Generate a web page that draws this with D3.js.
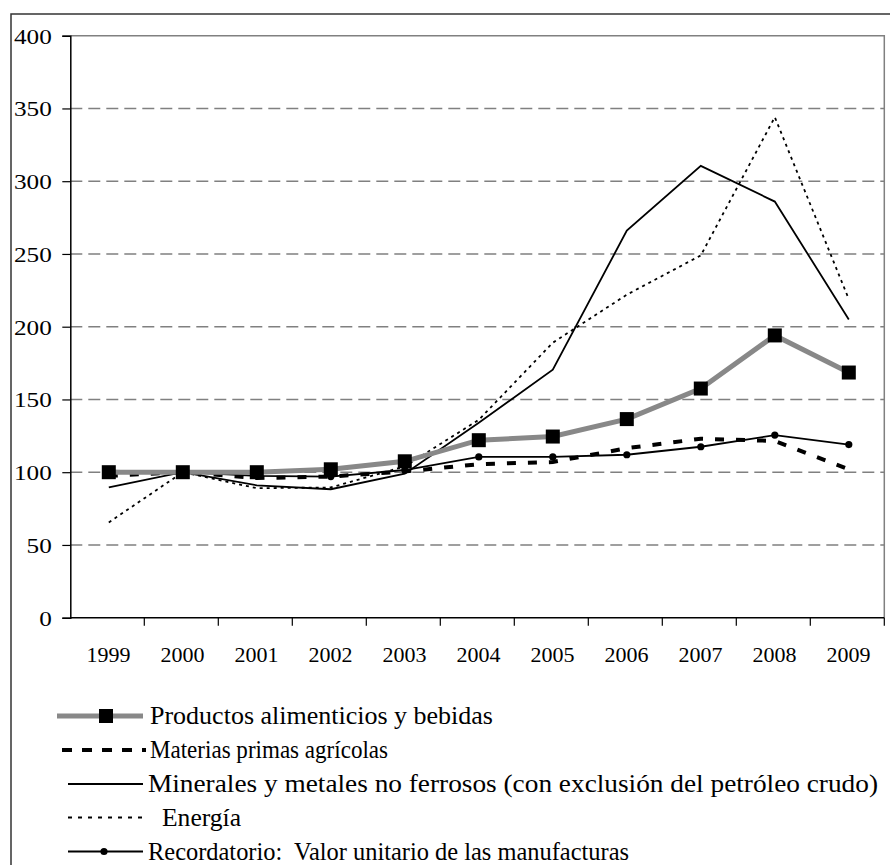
<!DOCTYPE html>
<html>
<head>
<meta charset="utf-8">
<script src="https://cdn.jsdelivr.net/npm/d3@7"></script>
<style>
  body { margin: 0; background: #fff; }
  text { font-family: "Liberation Serif", "Times New Roman", Times, serif; }
</style>
</head>
<body>
<div id="chart"></div>
<script>
// data
var years = ["1999", "2000", "2001", "2002", "2003", "2004", "2005", "2006", "2007", "2008", "2009"];
var alimentos = [100, 100, 100, 102, 107.5, 122, 124.5, 136.5, 157.5, 194, 168.5];
var agricolas = [97.5, 100, 96, 97, 100.5, 105.5, 107, 116.5, 123, 121.5, 102];
var minerales = [89.5, 100, 91, 88.3, 99, 134, 170.5, 266, 310.5, 286, 205];
var energia = [65.5, 100, 89, 89.5, 104, 136, 189, 222, 249, 344, 219];
var manufacturas = [101, 100, 97.5, 97, 101.5, 110.5, 110.5, 112, 117.5, 125.5, 119];
var yTicks = [0, 50, 100, 150, 200, 250, 300, 350, 400];
var legendLabels = [
  "Productos alimenticios y bebidas",
  "Materias primas agrícolas",
  "Minerales y metales no ferrosos (con exclusión del petróleo crudo)",
  "Energía",
  "Recordatorio:  Valor unitario de las manufacturas"
];

var width = 890, height = 865;
var plotLeft = 70.3, plotRight = 884.3, plotTop = 35.7, plotBottom = 617.7;
var serif = "'Liberation Serif', 'Times New Roman', Times, serif";

var svg = d3.select("#chart").append("svg")
  .attr("width", width)
  .attr("height", height)
  .attr("font-family", serif);

// outer chart frame (runs off the right and bottom)
svg.append("rect")
  .attr("x", 11).attr("y", 14)
  .attr("width", 900).attr("height", 900)
  .attr("fill", "none")
  .attr("stroke", "#333")
  .attr("stroke-width", 1.5);

var x = d3.scaleBand().domain(years).range([plotLeft, plotRight]);
var y = d3.scaleLinear().domain([0, 400]).range([plotBottom, plotTop]);
var cx = function(d, i) { return x(years[i]) + x.bandwidth() / 2 + 1.5; };

// gridlines
svg.append("g").selectAll("line")
  .data(yTicks.filter(function(t) { return t > 0 && t < 400; }))
  .enter().append("line")
  .attr("x1", plotLeft).attr("x2", plotRight)
  .attr("y1", function(d) { return y(d); })
  .attr("y2", function(d) { return y(d); })
  .attr("stroke", "#808080")
  .attr("stroke-width", 1.4)
  .attr("stroke-dasharray", "12,6");

// plot area border, top and right
svg.append("path")
  .attr("d", "M" + plotLeft + "," + y(400) + "H" + plotRight + "V" + plotBottom)
  .attr("fill", "none")
  .attr("stroke", "#808080")
  .attr("stroke-width", 1.5);

// y axis
var yAxis = svg.append("g")
  .attr("transform", "translate(" + plotLeft + ",0)")
  .call(d3.axisLeft(y).tickValues(yTicks).tickSize(8).tickPadding(0).tickFormat(d3.format("d")))
  .attr("font-family", serif);
yAxis.select(".domain").attr("stroke", "#000").attr("stroke-width", 1.5);
yAxis.selectAll(".tick line").attr("stroke", "#000").attr("stroke-width", 1.2);
yAxis.selectAll(".tick text")
  .attr("x", -18.5)
  .attr("dy", "0.34em")
  .attr("fill", "#000")
  .attr("font-size", 22)
  .attr("textLength", function(d) { return String(d).length * 12.6; })
  .attr("lengthAdjust", "spacingAndGlyphs");

// x axis, ticks on the category edges
var xAxis = svg.append("g")
  .attr("transform", "translate(0," + plotBottom + ")");
xAxis.append("line")
  .attr("x1", plotLeft).attr("x2", plotRight)
  .attr("stroke", "#000").attr("stroke-width", 1.5);
xAxis.selectAll("line.tk")
  .data(years)
  .enter().append("line")
  .attr("class", "tk")
  .attr("x1", function(d) { return x(d) + x.bandwidth(); })
  .attr("x2", function(d) { return x(d) + x.bandwidth(); })
  .attr("y1", 0).attr("y2", 8)
  .attr("stroke", "#000").attr("stroke-width", 1.2);
xAxis.selectAll("text")
  .data(years)
  .enter().append("text")
  .attr("x", function(d) { return x(d) + x.bandwidth() / 2 + 1.2; })
  .attr("y", 44)
  .attr("text-anchor", "middle")
  .attr("font-size", 22)
  .text(function(d) { return d; });

var line = d3.line()
  .x(cx)
  .y(function(d) { return y(d); });

var series = [
  { values: agricolas, stroke: "#000", width: 4, dash: "9,12" },
  { values: minerales, stroke: "#000", width: 1.8, dash: null },
  { values: energia, stroke: "#000", width: 1.8, dash: "3,4" },
  { values: manufacturas, stroke: "#000", width: 1.8, dash: null, dots: true },
  { values: alimentos, stroke: "#888", width: 5, dash: null, squares: true }
];

series.forEach(function(s) {
  svg.append("path")
    .datum(s.values)
    .attr("d", line)
    .attr("fill", "none")
    .attr("stroke", s.stroke)
    .attr("stroke-width", s.width)
    .attr("stroke-dasharray", s.dash);
  if (s.dots) {
    svg.append("g").selectAll("circle")
      .data(s.values)
      .enter().append("circle")
      .attr("cx", cx)
      .attr("cy", function(d) { return y(d); })
      .attr("r", 3.6)
      .attr("fill", "#000");
  }
  if (s.squares) {
    svg.append("g").selectAll("rect")
      .data(s.values)
      .enter().append("rect")
      .attr("x", function(d, i) { return cx(d, i) - 7; })
      .attr("y", function(d) { return y(d) - 7; })
      .attr("width", 14).attr("height", 14)
      .attr("fill", "#000");
  }
});

// legend
var legY = [716, 750, 784, 817.5, 851.5];
var legTextX = [150, 150, 148, 162, 148];
var legTextW = [343, 238, 730, 79, 481];
var leg = svg.append("g");

leg.append("line").attr("x1", 57).attr("x2", 143).attr("y1", legY[0]).attr("y2", legY[0])
  .attr("stroke", "#888").attr("stroke-width", 5);
leg.append("rect").attr("x", 99).attr("y", legY[0] - 7).attr("width", 14).attr("height", 14).attr("fill", "#000");

leg.append("line").attr("x1", 62).attr("x2", 146).attr("y1", legY[1]).attr("y2", legY[1])
  .attr("stroke", "#000").attr("stroke-width", 4).attr("stroke-dasharray", "10,10");

leg.append("line").attr("x1", 68).attr("x2", 143).attr("y1", legY[2]).attr("y2", legY[2])
  .attr("stroke", "#000").attr("stroke-width", 1.8);

leg.append("line").attr("x1", 68).attr("x2", 143).attr("y1", legY[3]).attr("y2", legY[3])
  .attr("stroke", "#000").attr("stroke-width", 2).attr("stroke-dasharray", "4,6");

leg.append("line").attr("x1", 68).attr("x2", 143).attr("y1", legY[4]).attr("y2", legY[4])
  .attr("stroke", "#000").attr("stroke-width", 1.8);
leg.append("circle").attr("cx", 104).attr("cy", legY[4]).attr("r", 3.6).attr("fill", "#000");

leg.selectAll("text")
  .data(legendLabels)
  .enter().append("text")
  .attr("x", function(d, i) { return legTextX[i]; })
  .attr("y", function(d, i) { return legY[i] + 8; })
  .attr("textLength", function(d, i) { return legTextW[i]; })
  .attr("lengthAdjust", "spacingAndGlyphs")
  .attr("font-size", 26)
  .style("white-space", "pre")
  .text(function(d) { return d; });
</script>
</body>
</html>
